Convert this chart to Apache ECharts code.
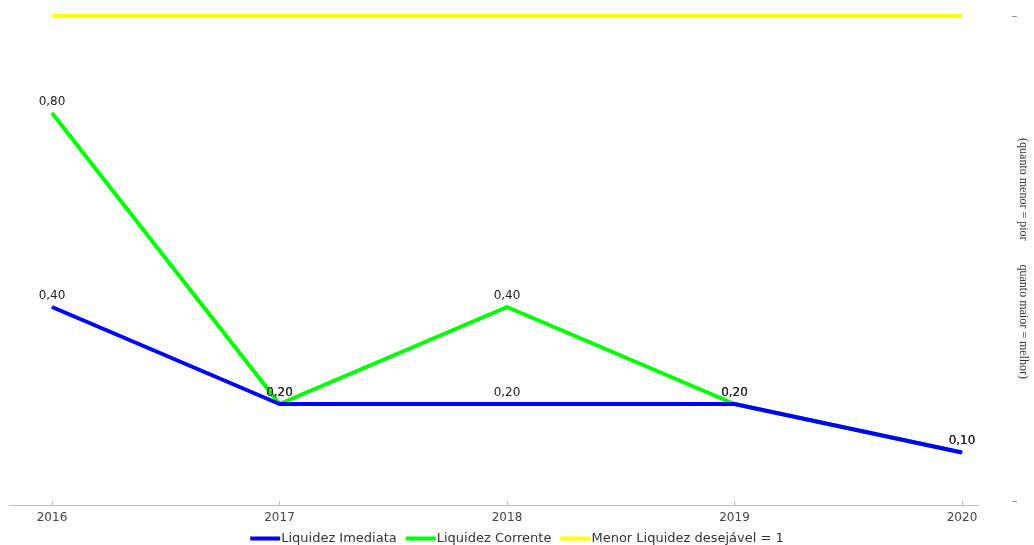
<!DOCTYPE html>
<html>
<head>
<meta charset="utf-8">
<script src="https://cdn.jsdelivr.net/npm/echarts@6/dist/echarts.min.js"></script>
<style>
  html, body { margin: 0; padding: 0; background: #fff; }
  #chart { width: 1034px; height: 545px; }
</style>
</head>
<body>
<div id="chart"></div>
<script>
// dados
const anos = ['2016', '2017', '2018', '2019', '2020'];
const liquidezImediata = [0.4, 0.2, 0.2, 0.2, 0.1];
const liquidezCorrente = [0.8, 0.2, 0.4, 0.2, 0.1];
const liquidezDesejavel = [1, 1, 1, 1, 1];

const chart = echarts.init(document.getElementById('chart'));

const rotulo = {
    show: true,
    position: 'top',
    distance: 5,
    color: '#222',
    fontFamily: 'DejaVu Sans',
    fontSize: 12,
    formatter: p => p.value.toFixed(2).replace('.', ',')
};

const option = {
    animation: false,
    grid: [
        { left: 52, right: 72, top: 16, bottom: 44, outerBoundsMode: 'none' },
        // grid só para a linha do eixo x, mais larga
        { left: 10, right: 56, top: 16, bottom: 40, outerBoundsMode: 'none' }
    ],
    legend: {
        top: 532,
        left: 'center',
        padding: 0,
        icon: 'rect',
        itemWidth: 30,
        itemHeight: 4,
        itemGap: 9,
        textStyle: { color: '#333', fontFamily: 'DejaVu Sans', fontSize: 13, padding: [0, 0, 0, -4] },
        data: ['Liquidez Imediata', 'Liquidez Corrente', 'Menor Liquidez desejável = 1']
    },
    xAxis: [
        {
            type: 'category',
            gridIndex: 0,
            data: anos,
            boundaryGap: false,
            axisLine: { show: false },
            axisTick: { show: true, length: 4, lineStyle: { color: '#bbb' } },
            axisLabel: { color: '#444', fontFamily: 'DejaVu Sans', fontSize: 12, margin: 11 },
            splitLine: { show: false }
        },
        {
            type: 'value',
            gridIndex: 1,
            min: 0,
            max: 1,
            axisLine: { show: true, lineStyle: { color: '#bbb', width: 1 } },
            axisTick: { show: false },
            axisLabel: { show: false },
            splitLine: { show: false }
        }
    ],
    yAxis: [
        {
            type: 'value',
            gridIndex: 0,
            position: 'right',
            offset: 50,
            min: 0,
            max: 1,
            interval: 1,
            axisLine: { show: false },
            axisTick: { show: true, length: 5, lineStyle: { color: '#999' } },
            axisLabel: { show: false },
            splitLine: { show: false },
            name: '(quanto menor = pior        quanto maior = melhor)',
            nameLocation: 'middle',
            nameRotate: -90,
            nameGap: 5,
            nameTextStyle: { color: '#333', fontFamily: 'Liberation Serif', fontSize: 12 }
        },
        {
            type: 'value',
            gridIndex: 1,
            show: false,
            min: 0,
            max: 1
        }
    ],
    series: [
        {
            name: 'Liquidez Imediata',
            type: 'line',
            data: liquidezImediata,
            z: 4,
            color: '#0000ff',
            lineStyle: { width: 4 },
            symbol: 'circle',
            symbolSize: 1,
            label: rotulo
        },
        {
            name: 'Liquidez Corrente',
            type: 'line',
            data: liquidezCorrente,
            z: 3,
            color: '#00ff00',
            lineStyle: { width: 4 },
            symbol: 'circle',
            symbolSize: 1,
            label: rotulo
        },
        {
            name: 'Menor Liquidez desejável = 1',
            type: 'line',
            data: liquidezDesejavel,
            z: 2,
            color: '#ffff00',
            lineStyle: { width: 4 },
            symbol: 'none'
        }
    ]
};

chart.setOption(option);
</script>
</body>
</html>
